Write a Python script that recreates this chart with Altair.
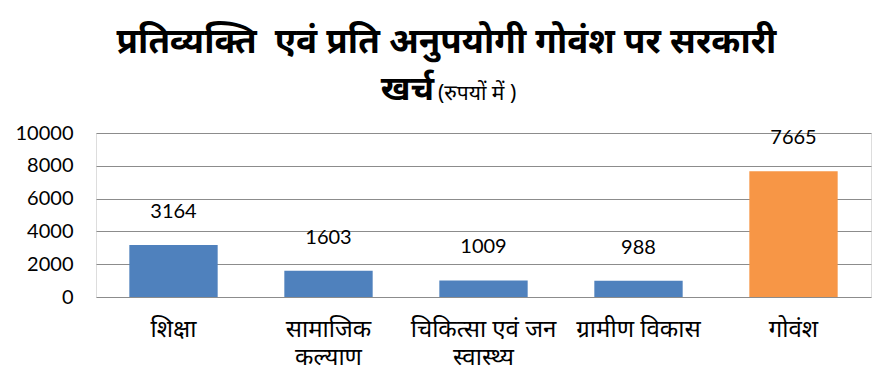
import altair as alt
import pandas as pd

categories = ["शिक्षा", "सामाजिक कल्याण", "चिकित्सा एवं जन स्वास्थ्य", "ग्रामीण विकास", "गोवंश"]
values = [3164, 1603, 1009, 988, 7665]
groups = ["अन्य", "अन्य", "अन्य", "अन्य", "गोवंश"]
y_ticks = [0, 2000, 4000, 6000, 8000, 10000]

title_line1 = "प्रतिव्यक्ति\u00a0 एवं प्रति अनुपयोगी गोवंश पर सरकारी"
title_line2_bold = "खर्च"
title_line2_small = "(रुपयों में )"

df = pd.DataFrame({"cat": categories, "val": values, "grp": groups})

FONT = "Lato"
DEV = "Noto Sans"

label_expr = (
    "datum.label == 'सामाजिक कल्याण' ? ['सामाजिक', 'कल्याण'] : "
    "datum.label == 'चिकित्सा एवं जन स्वास्थ्य' ? ['चिकित्सा एवं जन', 'स्वास्थ्य'] : datum.label"
)

x = alt.X("cat:N", sort=categories, title=None,
          scale=alt.Scale(paddingInner=0.43, paddingOuter=0.215),
          axis=alt.Axis(labelAngle=0, labelFontSize=24, labelColor="black", labelFont=DEV,
                        ticks=False, domain=False, labelPadding=20, labelExpr=label_expr,
                        labelLineHeight=28, labelLimit=220))
y = alt.Y("val:Q", title=None,
          scale=alt.Scale(domain=[0, 10000]),
          axis=alt.Axis(values=y_ticks, format="d", labelOverlap=False, labelFontSize=20,
                        labelColor="black", labelFont=FONT,
                        ticks=False, domain=False, labelPadding=23,
                        gridColor="#8c8c8c", gridWidth=1))

base = alt.Chart(df)
bars = base.mark_bar().encode(
    x=x, y=y,
    color=alt.Color("grp:N", scale=alt.Scale(domain=["अन्य", "गोवंश"], range=["#4F81BD", "#F79646"]), legend=None),
)
labels = base.mark_text(dy=-33, fontSize=20, font=FONT, color="black").encode(
    x=x, y=y, text="val:Q"
)
t2a = alt.Chart(pd.DataFrame({"t": [title_line2_bold]})).mark_text(
    align="right", baseline="alphabetic", fontSize=34, fontWeight="bold", font=DEV, color="black"
).encode(x=alt.value(338), y=alt.value(-33), text="t:N")
t2b = alt.Chart(pd.DataFrame({"t": [title_line2_small]})).mark_text(
    align="left", baseline="alphabetic", fontSize=21, font=DEV, color="black"
).encode(x=alt.value(342), y=alt.value(-33), text="t:N")

chart = alt.layer(bars, labels, t2a, t2b).properties(
    width=775, height=164,
    padding={"left": 7, "top": 17, "right": 5, "bottom": 0},
    title=alt.TitleParams(title_line1, fontSize=35, fontWeight="bold", font=DEV, color="black",
                          anchor="middle", offset=13, dx=-37),
).configure_view(stroke=None).configure(background="white")

chart.save("out.html", embed_options={"renderer": "svg", "actions": False})
